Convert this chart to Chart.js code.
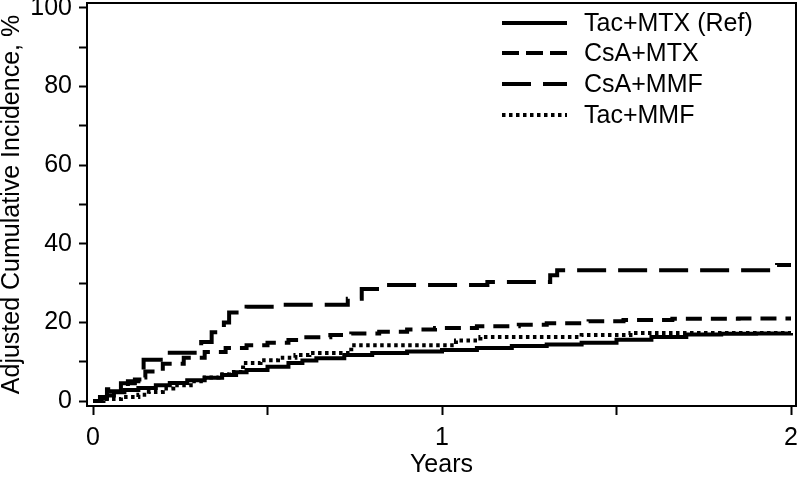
<!DOCTYPE html>
<html>
<head>
<meta charset="utf-8">
<script src="https://cdn.jsdelivr.net/npm/chart.js@4/dist/chart.umd.min.js"></script>
<style>
  html, body { margin: 0; padding: 0; background: #fff; }
  #chart { display: block; }
</style>
</head>
<body>
<canvas id="chart" width="800" height="478"></canvas>
<script>
// ---- Data (years, adjusted cumulative incidence %) ----
var seriesLabels = ['Tac+MTX (Ref)', 'CsA+MTX', 'CsA+MMF', 'Tac+MMF'];

var tacMtxTimes  = [0, 0.02, 0.04, 0.06, 0.09, 0.13, 0.18, 0.22, 0.27, 0.32, 0.37, 0.41, 0.44, 0.5, 0.56, 0.6, 0.64, 0.72, 0.8, 0.9, 1.0, 1.1, 1.2, 1.3, 1.4, 1.5, 1.6, 1.7, 1.8, 1.9, 2.0];
var tacMtxValues = [0, 0.6, 1.4, 2.2, 2.8, 3.3, 4.0, 4.6, 5.3, 5.9, 6.6, 7.3, 7.9, 8.7, 9.7, 10.3, 10.9, 11.7, 12.2, 12.6, 13.0, 13.5, 14.0, 14.4, 14.8, 15.6, 16.3, 16.9, 17.1, 17.2, 17.3];

var csaMtxTimes  = [0, 0.02, 0.05, 0.08, 0.1, 0.13, 0.15, 0.2, 0.26, 0.32, 0.38, 0.44, 0.5, 0.56, 0.6, 0.68, 0.74, 0.82, 0.9, 0.98, 1.1, 1.22, 1.3, 1.42, 1.52, 1.66, 1.85, 2.0];
var csaMtxValues = [0, 1, 2.5, 3.8, 5, 6, 7.5, 9.5, 11, 12.5, 13.5, 14.2, 14.8, 15.5, 16.2, 16.8, 17.2, 17.6, 18.2, 18.6, 19, 19.4, 19.8, 20.3, 20.6, 20.9, 21, 21];

var csaMmfTimes  = [0, 0.02, 0.04, 0.08, 0.12, 0.145, 0.22, 0.31, 0.34, 0.375, 0.39, 0.44, 0.53, 0.73, 0.77, 0.82, 1.13, 1.31, 1.33, 1.96, 2.0];
var csaMmfValues = [0, 1, 3, 4.5, 5.5, 10.5, 12.3, 15, 17.5, 20, 22.5, 24, 24.5, 26, 28.5, 29.5, 30.3, 32, 33.3, 34.6, 34.6];

var tacMmfTimes  = [0, 0.03, 0.08, 0.13, 0.16, 0.2, 0.23, 0.28, 0.32, 0.36, 0.39, 0.43, 0.48, 0.53, 0.58, 0.62, 0.74, 1.04, 1.11, 1.4, 1.54, 2.0];
var tacMmfValues = [0, 0.5, 1.0, 1.6, 2.3, 3.2, 4.0, 5.0, 6.0, 6.8, 7.4, 9.7, 10.4, 11.0, 11.7, 12.2, 14.2, 15.4, 16.3, 16.8, 17.3, 17.3];

var xTicks = [0, 0.5, 1, 1.5, 2];
var xTickLabels = ['0', '', '1', '', '2'];
var yTicks = [0, 10, 20, 30, 40, 50, 60, 70, 80, 90, 100];
var yTickLabels = ['0', '', '20', '', '40', '', '60', '', '80', '', '100'];

function toPoints(times, values) {
    return times.map(function (t, i) { return { x: t, y: values[i] }; });
}

var FONT = "'Liberation Sans', Arial, Helvetica, sans-serif";
Chart.defaults.font.family = FONT;
Chart.defaults.font.size = 25;
Chart.defaults.color = '#000';

// box around plot area + legend drawn inside it
var framePlugin = {
    id: 'frame',
    afterDraw: function (chart) {
        var ctx = chart.ctx;
        var a = chart.chartArea;
        ctx.save();
        ctx.strokeStyle = '#000';
        ctx.lineWidth = 2;
        ctx.setLineDash([]);
        ctx.strokeRect(a.left, a.top, a.right - a.left, a.bottom - a.top);

        // legend
        var rowY = [23, 53, 84, 115];
        ctx.font = '25px ' + FONT;
        ctx.textBaseline = 'middle';
        ctx.textAlign = 'left';
        chart.data.datasets.forEach(function (ds, i) {
            ctx.beginPath();
            ctx.lineWidth = ds.borderWidth;
            ctx.setLineDash(ds.legendDash || ds.borderDash || []);
            ctx.moveTo(502, rowY[i]);
            ctx.lineTo(567, rowY[i]);
            ctx.stroke();
            ctx.setLineDash([]);
            ctx.fillStyle = '#000';
            ctx.fillText(ds.label, 584, rowY[i] + 1);
        });
        ctx.restore();
    }
};

var common = {
    borderColor: '#000',
    borderWidth: 4,
    pointRadius: 0,
    stepped: true,
    fill: false,
    borderCapStyle: 'butt'
};

new Chart(document.getElementById('chart'), {
    type: 'line',
    data: {
        datasets: [
            Object.assign({ label: seriesLabels[0], data: toPoints(tacMtxTimes, tacMtxValues), borderDash: [] }, common),
            Object.assign({ label: seriesLabels[1], data: toPoints(csaMtxTimes, csaMtxValues), borderDash: [16, 9], legendDash: [17, 7] }, common),
            Object.assign({ label: seriesLabels[2], data: toPoints(csaMmfTimes, csaMmfValues), borderDash: [29, 12] }, common),
            Object.assign({ label: seriesLabels[3], data: toPoints(tacMmfTimes, tacMmfValues), borderDash: [3.5, 3.5] }, common)
        ]
    },
    options: {
        responsive: false,
        animation: false,
        devicePixelRatio: 1,
        layout: { padding: { top: 3, right: 4, left: 0, bottom: 0 } },
        plugins: {
            legend: { display: false },
            tooltip: { enabled: false }
        },
        scales: {
            x: {
                type: 'linear',
                min: -0.0172,
                max: 2.0143,
                afterBuildTicks: function (scale) {
                    scale.ticks = xTicks.map(function (v) { return { value: v }; });
                },
                afterFit: function (scale) {
                    scale.height = 72;
                    scale.paddingLeft = 0;
                    scale.paddingRight = 0;
                },
                ticks: {
                    autoSkip: false,
                    maxRotation: 0,
                    padding: 8,
                    callback: function (v, i) { return xTickLabels[i]; }
                },
                grid: {
                    drawOnChartArea: false,
                    drawTicks: true,
                    tickLength: 9,
                    tickWidth: 2,
                    tickColor: '#000'
                },
                border: { display: false },
                title: {
                    display: true,
                    text: 'Years',
                    font: { size: 25, lineHeight: 1 },
                    padding: 0
                }
            },
            y: {
                type: 'linear',
                min: -1.27,
                max: 101.27,
                afterBuildTicks: function (scale) {
                    scale.ticks = yTicks.map(function (v) { return { value: v }; });
                },
                afterFit: function (scale) {
                    scale.width = 87;
                    scale.paddingTop = 0;
                    scale.paddingBottom = 0;
                },
                ticks: {
                    autoSkip: false,
                    padding: 7,
                    callback: function (v, i) { return yTickLabels[i]; }
                },
                grid: {
                    drawOnChartArea: false,
                    drawTicks: true,
                    tickLength: 8,
                    tickWidth: 2,
                    tickColor: '#000'
                },
                border: { display: false },
                title: {
                    display: true,
                    text: 'Adjusted Cumulative Incidence, %',
                    font: { size: 25, lineHeight: 1 },
                    padding: 0
                }
            }
        }
    },
    plugins: [framePlugin]
});
</script>
</body>
</html>
